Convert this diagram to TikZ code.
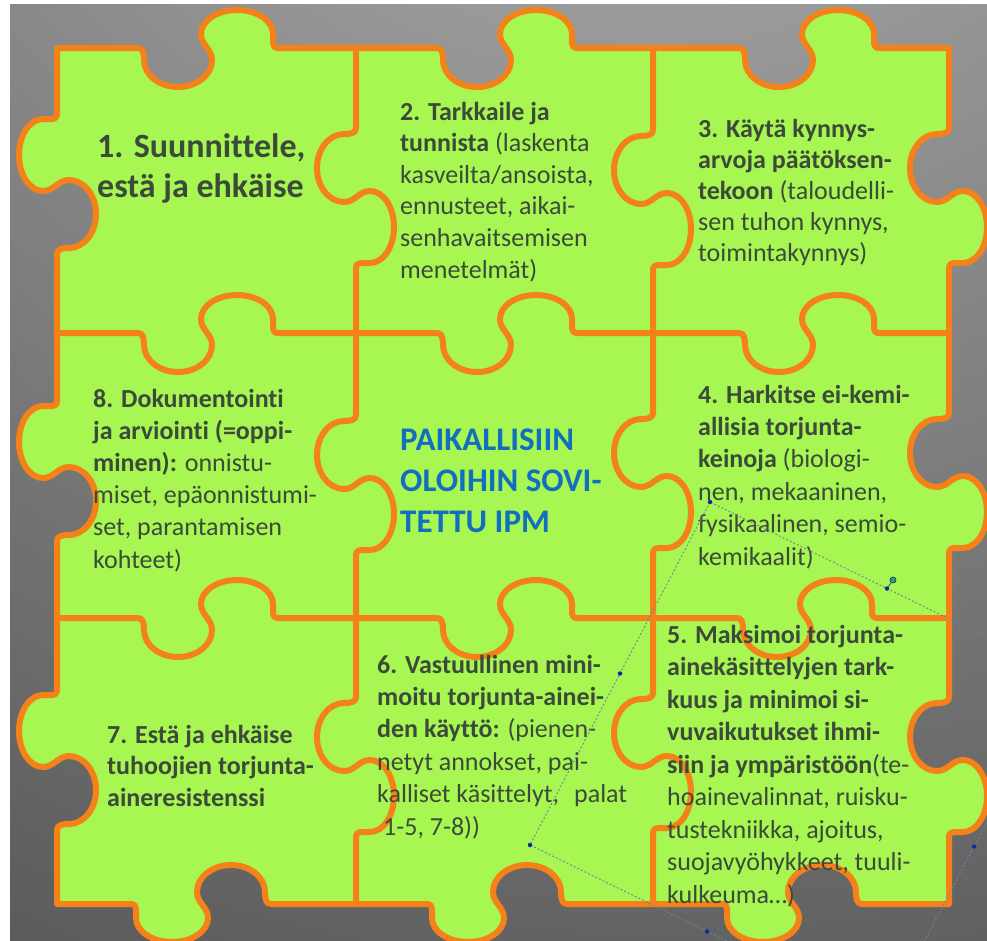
\documentclass[tikz,border=0pt]{standalone}
\usepackage{fontspec}
\setmainfont{Carlito}[Ligatures={NoCommon}]
\usetikzlibrary{calc}

\definecolor{pzgreen}{RGB}{168,246,82}
\definecolor{pzorange}{RGB}{244,130,24}
\definecolor{pztext}{RGB}{60,74,58}
\definecolor{pzblue}{RGB}{18,110,192}
\definecolor{bginner}{RGB}{185,185,185}
\definecolor{bgouter}{RGB}{16,16,16}
\definecolor{selline}{RGB}{110,130,165}
\definecolor{selhandle}{RGB}{20,40,150}
\definecolor{rotgreen}{RGB}{40,170,90}

% one puzzle tab: hook into the piece, then a knob out of it
% #1,#2 start point, #3 direction of travel (0 = along +x)
\newcommand\tabat[3]{{[shift={(#1,#2)},rotate=#3]
  -- (0,0) .. controls (5,0) and (6,5) .. (6,12)
  .. controls (6,26.9) and (21.2,39) .. (40,39)
  .. controls (58.8,39) and (74,26.9) .. (74,12)
  .. controls (74,1) and (63,-3) .. (63,-14)
  .. controls (63,-27.3) and (79.1,-38) .. (99,-38)
  .. controls (118.9,-38) and (135,-27.3) .. (135,-14)
  -- (135,-6) .. controls (135,-1) and (137,0) .. (141,0)}}

% stacked text lines with a fixed baseline distance
\newcommand\Lines[2]{\vtop{\baselineskip=#1\relax\lineskiplimit=-1000bp\relax #2}}
\newcommand\Row[1]{\hbox{#1}}

\tikzset{
  piece/.style={fill=pzgreen, draw=pzorange, line width=6bp, line join=round},
  joint/.style={draw=pzorange, line width=6bp, line join=round, line cap=round},
  label/.style={anchor=base west, inner sep=0pt, text=pztext,
    font=\fontsize{26bp}{31.6bp}\selectfont},
  biglabel/.style={label, font=\bfseries\fontsize{34bp}{40.5bp}\selectfont},
  ipmtext/.style={label, text=pzblue, font=\bfseries\fontsize{33bp}{41bp}\selectfont},
  selframe/.style={draw=selline, line width=0.9bp, dash pattern=on 2bp off 2bp},
  handle/.style={circle, fill=selhandle, inner sep=0pt, minimum size=4.5bp},
  rothandle/.style={circle, fill=rotgreen, draw=selhandle, line width=0.6bp,
    inner sep=0pt, minimum size=6bp}
}

\begin{document}
\begin{tikzpicture}[x=1bp, y=-1bp]
\useasboundingbox (0,0) rectangle (987,941);
\fill[white] (0,0) rectangle (987,941);

% grey backdrop, lighter towards the top
\begin{scope}
  \clip (10,4) rectangle (987,941);
  \shade[inner color=bginner, outer color=bgouter] (650,-500) circle (2830bp);
\end{scope}

% outline of the whole 3x3 puzzle
\path[piece] (57,48)
  \tabat{138}{48}{0} \tabat{437}{48}{0} \tabat{739}{48}{0} -- (949,48)
  \tabat{949}{128}{-90} \tabat{949}{413}{-90} \tabat{949}{697}{-90} -- (949,904)
  \tabat{862}{904}{180} \tabat{567}{904}{180} \tabat{271}{904}{180} -- (57,904)
  \tabat{57}{830}{90} \tabat{57}{541}{90} \tabat{57}{254}{90} -- cycle;

% seams between the pieces
\draw[joint] (57,333) \tabat{138}{333}{0} \tabat{437}{333}{0} \tabat{739}{333}{0} -- (949,333);
\draw[joint] (57,618) \tabat{138}{618}{0} \tabat{437}{618}{0} \tabat{737}{618}{0} -- (949,618);
\draw[joint] (356,48) \tabat{356}{128}{-90} \tabat{356}{415}{-90} \tabat{356}{697}{-90} -- (356,904);
\draw[joint] (653,48) \tabat{653}{130}{-90} \tabat{653}{413}{-90} \tabat{653}{693}{-90} -- (653,904);

% piece texts
\node[biglabel] (t1) at (97,157) {\Lines{40.5bp}{%
  \Row{1. Suunnittele,}
  \Row{estä ja ehkäise}}};

\node[label] (t2) at (400,120) {\Lines{31.6bp}{%
  \Row{\textbf{2. Tarkkaile ja}}
  \Row{\textbf{tunnista} (laskenta}
  \Row{kasveilta/ansoista,}
  \Row{ennusteet, aikai-}
  \Row{senhavaitsemisen}
  \Row{menetelmät)}}};

\node[label] (t3) at (698,137) {\Lines{31bp}{%
  \Row{\textbf{3. Käytä kynnys-}}
  \Row{\textbf{arvoja päätöksen-}}
  \Row{\textbf{tekoon} (taloudelli-}
  \Row{sen tuhon kynnys,}
  \Row{toimintakynnys)}}};

\node[label] (t8) at (93,407) {\Lines{32.2bp}{%
  \Row{\textbf{8. Dokumentointi}}
  \Row{\textbf{ja arviointi (=oppi-}}
  \Row{\textbf{minen):} onnistu-}
  \Row{miset, epäonnistumi-}
  \Row{set, parantamisen}
  \Row{kohteet)}}};

\node[ipmtext] (tc) at (400,450) {\Lines{41bp}{%
  \Row{PAIKALLISIIN}
  \Row{OLOIHIN SOVI-}
  \Row{TETTU IPM}}};

\node[label] (t4) at (698,403) {\Lines{32.4bp}{%
  \Row{\textbf{4. Harkitse ei-kemi-}}
  \Row{\textbf{allisia torjunta-}}
  \Row{\textbf{keinoja} (biologi-}
  \Row{nen, mekaaninen,}
  \Row{fysikaalinen, semio-}
  \Row{kemikaalit)}}};

\node[label] (t7) at (107,743) {\Lines{31.5bp}{%
  \Row{\textbf{7. Estä ja ehkäise}}
  \Row{\textbf{tuhoojien torjunta-}}
  \Row{\textbf{aineresistenssi}}}};

\node[label] (t6) at (377,673) {\Lines{32.4bp}{%
  \Row{\textbf{6. Vastuullinen mini-}}
  \Row{\textbf{moitu torjunta-ainei-}}
  \Row{\textbf{den käyttö:} (pienen-}
  \Row{netyt annokset, pai-}
  \Row{kalliset käsittelyt,\hspace{0.35em} palat}
  \Row{\hspace{6bp}1-5, 7-8))}}};

\node[label] (t5) at (667,643) {\Lines{32.5bp}{%
  \Row{\textbf{5. Maksimoi torjunta-}}
  \Row{\textbf{ainekäsittelyjen tark-}}
  \Row{\textbf{kuus ja minimoi si-}}
  \Row{\textbf{vuvaikutukset ihmi-}}
  \Row{\textbf{siin ja ympäristöön}(te-}
  \Row{hoainevalinnat, ruisku-}
  \Row{tustekniikka, ajoitus,}
  \Row{suojavyöhykkeet, tuuli-}
  \Row{kulkeuma…)}}};

% dotted selection frame with its handles
\coordinate (selA) at (710,502);
\coordinate (selB) at (530,845);
\coordinate (selC) at (884,1018);
\coordinate (selD) at (1064,675);
\draw[selframe] (selA) -- (selB) -- (selC) -- (selD) -- cycle;
\node[handle] (hA) at (selA) {};
\node[handle] (hB) at (selB) {};
\node[handle] (hAB) at ($(selA)!0.5!(selB)$) {};
\node[handle] (hBC) at ($(selB)!0.5!(selC)$) {};
\node[handle] (hCD) at ($(selC)!0.5!(selD)$) {};
\node[handle] (hDA) at ($(selD)!0.5!(selA)$) {};
\node[rothandle] (hrot) at (893,580) {};
\draw[selhandle, line width=0.6bp] (hDA) -- (hrot);
\end{tikzpicture}
\end{document}
